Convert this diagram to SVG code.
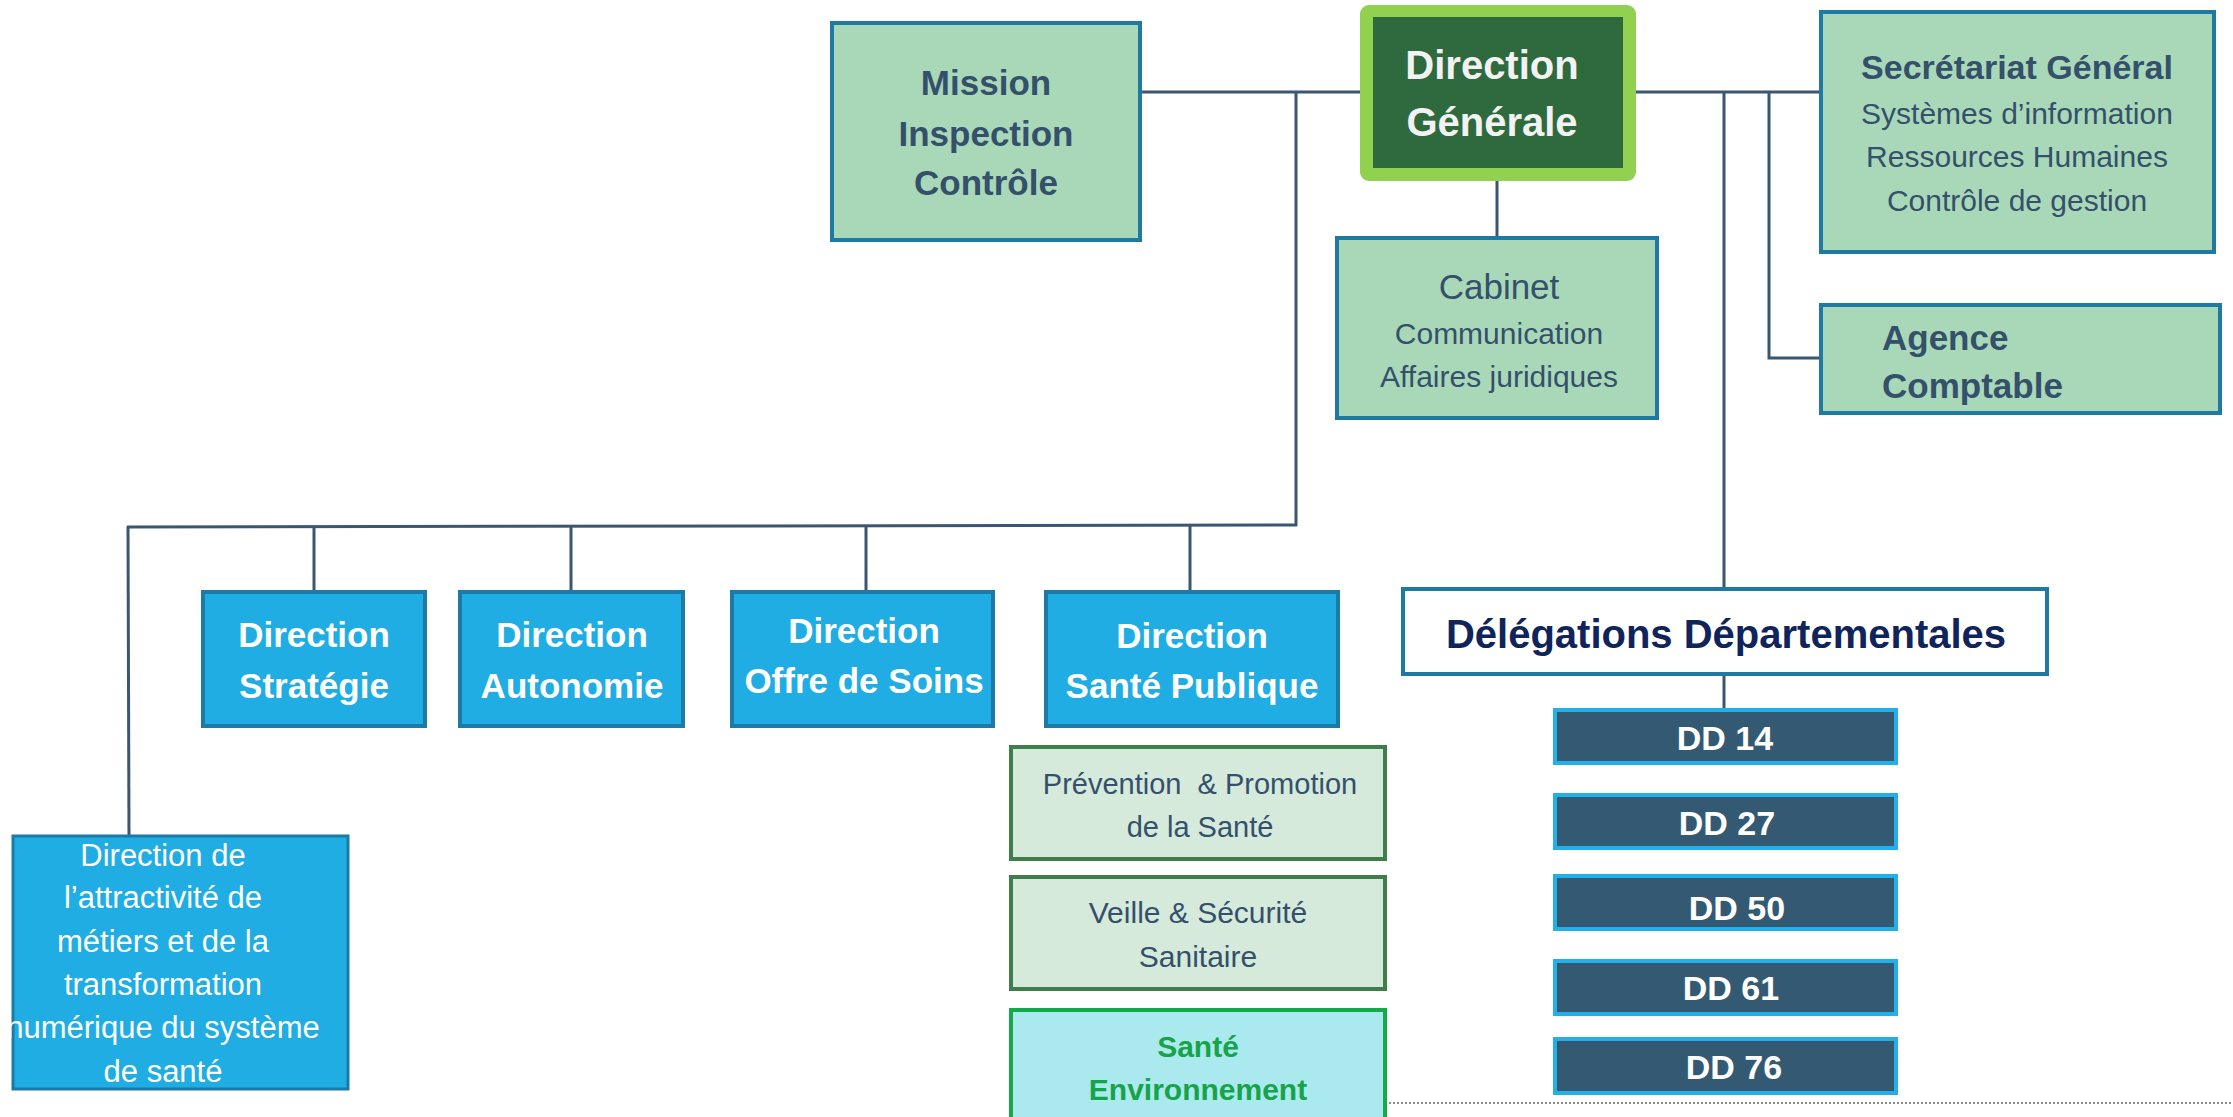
<svg xmlns="http://www.w3.org/2000/svg" width="2233" height="1117" viewBox="0 0 2233 1117">
<style>
text{font-family:"Liberation Sans",Arial,sans-serif;text-anchor:middle}
.lg{fill:#a9d8b8;stroke:#1f7aa3;stroke-width:4}
.blue{fill:#1fade3;stroke:#1b7ba6;stroke-width:4}
.dd{fill:#335a72;stroke:#22b0e8;stroke-width:4}
.sub{fill:#d5eadb;stroke:#3f7e48;stroke-width:4}
.env{fill:#aaeaee;stroke:#13aa4c;stroke-width:4}
.slate{fill:#34506b}
.wb{fill:#ffffff;font-weight:bold}
.w{fill:#ffffff}
.b{font-weight:bold}
.conn line,.conn polyline{stroke:#3b5670;stroke-width:3;fill:none}
</style>
<rect width="2233" height="1117" fill="#ffffff"/>
<g class="conn" id="connectors">
<line x1="1140" y1="92" x2="1360" y2="92"/>
<line x1="1636" y1="92" x2="1821" y2="92"/>
<line x1="1296" y1="92" x2="1296" y2="526"/>
<line x1="127" y1="527" x2="1297" y2="525"/>
<line x1="128" y1="526" x2="129" y2="836"/>
<line x1="314" y1="526" x2="314" y2="592"/>
<line x1="571" y1="526" x2="571" y2="592"/>
<line x1="866" y1="526" x2="866" y2="592"/>
<line x1="1190" y1="525" x2="1190" y2="592"/>
<line x1="1497" y1="181" x2="1497" y2="238"/>
<line x1="1724" y1="92" x2="1724" y2="588"/>
<polyline points="1769,92 1769,358 1821,358"/>
<line x1="1724" y1="674" x2="1724" y2="710"/>
<line x1="1385" y1="1103" x2="2233" y2="1103" style="stroke:#8a8a8a;stroke-width:2;stroke-dasharray:2 2"/>
</g>
<g id="mission">
<rect class="lg" x="832" y="23" width="308" height="217"/>
<text class="slate b" x="986" y="95" font-size="35">Mission</text>
<text class="slate b" x="986" y="146" font-size="35">Inspection</text>
<text class="slate b" x="986" y="195" font-size="35">Contrôle</text>
</g>
<g id="direction-generale">
<rect x="1360" y="5" width="276" height="176" rx="9" fill="#92d050"/>
<rect x="1373" y="17" width="250" height="151" fill="#2e6a3e"/>
<text class="b" fill="#f2f2f2" x="1492" y="79" font-size="40">Direction</text>
<text class="b" fill="#f2f2f2" x="1492" y="136" font-size="40">Générale</text>
</g>
<g id="cabinet">
<rect class="lg" x="1337" y="238" width="320" height="180"/>
<text class="slate" x="1499" y="299" font-size="35">Cabinet</text>
<text class="slate" x="1499" y="344" font-size="30">Communication</text>
<text class="slate" x="1499" y="387" font-size="30">Affaires juridiques</text>
</g>
<g id="secretariat">
<rect class="lg" x="1821" y="12" width="393" height="240"/>
<text class="slate b" x="2017" y="79" font-size="34">Secrétariat Général</text>
<text class="slate" x="2017" y="124" font-size="30">Systèmes d’information</text>
<text class="slate" x="2017" y="167" font-size="30">Ressources Humaines</text>
<text class="slate" x="2017" y="211" font-size="30">Contrôle de gestion</text>
</g>
<g id="agence">
<rect class="lg" x="1821" y="305" width="399" height="108"/>
<text class="slate b" x="1882" y="350" font-size="35" style="text-anchor:start">Agence</text>
<text class="slate b" x="1882" y="398" font-size="35" style="text-anchor:start">Comptable</text>
</g>
<g id="dir-strategie">
<rect class="blue" x="203" y="592" width="222" height="134"/>
<text class="wb" x="314" y="647" font-size="35">Direction</text>
<text class="wb" x="314" y="698" font-size="35">Stratégie</text>
</g>
<g id="dir-autonomie">
<rect class="blue" x="460" y="592" width="223" height="134"/>
<text class="wb" x="572" y="647" font-size="35">Direction</text>
<text class="wb" x="572" y="698" font-size="35">Autonomie</text>
</g>
<g id="dir-offre">
<rect class="blue" x="732" y="592" width="261" height="134"/>
<text class="wb" x="864" y="643" font-size="35">Direction</text>
<text class="wb" x="864" y="693" font-size="35">Offre de Soins</text>
</g>
<g id="dir-sante-publique">
<rect class="blue" x="1046" y="592" width="292" height="134"/>
<text class="wb" x="1192" y="648" font-size="35">Direction</text>
<text class="wb" x="1192" y="698" font-size="35">Santé Publique</text>
</g>
<g id="dir-attractivite">
<rect class="blue" x="13" y="836" width="335" height="253" style="stroke-width:3"/>
<text class="w" x="163" y="866" font-size="31">Direction de</text>
<text class="w" x="163" y="908" font-size="31">l’attractivité de</text>
<text class="w" x="163" y="952" font-size="31">métiers et de la</text>
<text class="w" x="163" y="995" font-size="31">transformation</text>
<text class="w" x="163" y="1038" font-size="31">numérique du système</text>
<text class="w" x="163" y="1082" font-size="31">de santé</text>
</g>
<g id="prevention">
<rect class="sub" x="1011" y="747" width="374" height="112"/>
<text class="slate" x="1200" y="794" font-size="29" xml:space="preserve">Prévention  &amp; Promotion</text>
<text class="slate" x="1200" y="837" font-size="29">de la Santé</text>
</g>
<g id="veille">
<rect class="sub" x="1011" y="877" width="374" height="112"/>
<text class="slate" x="1198" y="923" font-size="30">Veille &amp; Sécurité</text>
<text class="slate" x="1198" y="967" font-size="30">Sanitaire</text>
</g>
<g id="sante-env">
<rect class="env" x="1011" y="1010" width="374" height="120"/>
<text class="b" fill="#17a34a" x="1198" y="1057" font-size="30">Santé</text>
<text class="b" fill="#17a34a" x="1198" y="1100" font-size="30">Environnement</text>
</g>
<g id="delegations">
<rect x="1403" y="589" width="644" height="85" fill="#ffffff" stroke="#1f7aa3" stroke-width="4"/>
<text class="b" fill="#10245c" x="1726" y="648" font-size="40">Délégations Départementales</text>
</g>
<g id="dd14"><rect class="dd" x="1555" y="710" width="341" height="53"/><text class="wb" x="1725" y="750" font-size="34">DD 14</text></g>
<g id="dd27"><rect class="dd" x="1555" y="795" width="341" height="53"/><text class="wb" x="1727" y="835" font-size="34">DD 27</text></g>
<g id="dd50"><rect class="dd" x="1555" y="876" width="341" height="53"/><text class="wb" x="1737" y="920" font-size="34">DD 50</text></g>
<g id="dd61"><rect class="dd" x="1555" y="961" width="341" height="53"/><text class="wb" x="1731" y="1000" font-size="34">DD 61</text></g>
<g id="dd76"><rect class="dd" x="1555" y="1039" width="341" height="54"/><text class="wb" x="1734" y="1079" font-size="34">DD 76</text></g>
</svg>
